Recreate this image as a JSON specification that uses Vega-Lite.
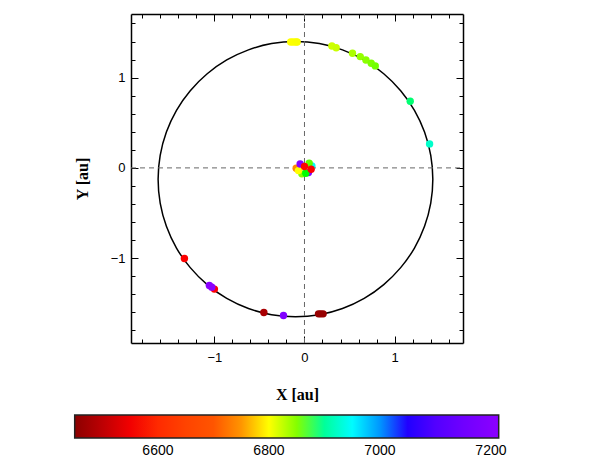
{
  "$schema": "https://vega.github.io/schema/vega-lite/v6.json",
  "width": 332,
  "height": 329,
  "autosize": {"type": "none"},
  "padding": {"left": 131, "top": 14, "right": 135, "bottom": 123},
  "config": {
    "view": {"stroke": null},
    "font": "Liberation Sans",
    "axis": {"labelFont": "Liberation Sans", "labelFontSize": 13, "labelColor": "#000", "tickColor": "#000", "domainColor": "#000", "grid": false, "titleFont": "Liberation Serif", "titleFontSize": 16, "titleFontWeight": "bold", "titleColor": "#000"},
    "legend": {"labelFont": "Liberation Sans", "labelFontSize": 14, "labelColor": "#000"}
  },
  "resolve": {"axis": {"x": "independent", "y": "independent"}},
  "layer": [
    {
      "data": {"values": [
        {"i": 0, "x": 1.425, "y": -0.125}, {"i": 1, "x": 1.402, "y": 0.140}, {"i": 2, "x": 1.333, "y": 0.397},
        {"i": 3, "x": 1.221, "y": 0.638}, {"i": 4, "x": 1.068, "y": 0.855}, {"i": 5, "x": 0.880, "y": 1.043},
        {"i": 6, "x": 0.663, "y": 1.196}, {"i": 7, "x": 0.422, "y": 1.308}, {"i": 8, "x": 0.165, "y": 1.377},
        {"i": 9, "x": -0.100, "y": 1.400}, {"i": 10, "x": -0.365, "y": 1.377}, {"i": 11, "x": -0.622, "y": 1.308},
        {"i": 12, "x": -0.863, "y": 1.196}, {"i": 13, "x": -1.080, "y": 1.043}, {"i": 14, "x": -1.268, "y": 0.855},
        {"i": 15, "x": -1.421, "y": 0.638}, {"i": 16, "x": -1.533, "y": 0.397}, {"i": 17, "x": -1.602, "y": 0.140},
        {"i": 18, "x": -1.625, "y": -0.125}, {"i": 19, "x": -1.602, "y": -0.390}, {"i": 20, "x": -1.533, "y": -0.647},
        {"i": 21, "x": -1.421, "y": -0.888}, {"i": 22, "x": -1.268, "y": -1.105}, {"i": 23, "x": -1.080, "y": -1.293},
        {"i": 24, "x": -0.863, "y": -1.446}, {"i": 25, "x": -0.622, "y": -1.558}, {"i": 26, "x": -0.365, "y": -1.627},
        {"i": 27, "x": -0.100, "y": -1.650}, {"i": 28, "x": 0.165, "y": -1.627}, {"i": 29, "x": 0.422, "y": -1.558},
        {"i": 30, "x": 0.663, "y": -1.446}, {"i": 31, "x": 0.880, "y": -1.293}, {"i": 32, "x": 1.068, "y": -1.105},
        {"i": 33, "x": 1.221, "y": -0.888}, {"i": 34, "x": 1.333, "y": -0.647}, {"i": 35, "x": 1.402, "y": -0.390}
      ]},
      "mark": {"type": "line", "interpolate": "cardinal-closed", "color": "#000", "strokeWidth": 1.5, "clip": true},
      "encoding": {
        "order": {"field": "i", "type": "quantitative"},
        "x": {"field": "x", "type": "quantitative", "scale": {"domain": [-1.926, 1.76], "nice": false, "zero": false},
          "axis": {"orient": "bottom", "values": [-1, 0, 1], "tickSize": -7, "tickWidth": 1, "labelPadding": 15, "domain": true, "domainWidth": 1.5, "title": "X [au]", "titlePadding": 22}},
        "y": {"field": "y", "type": "quantitative", "scale": {"domain": [-1.94, 1.705], "nice": false, "zero": false},
          "axis": {"orient": "left", "values": [-1, 0, 1], "tickSize": -7, "tickWidth": 1, "labelPadding": 13, "domain": true, "domainWidth": 1.5, "title": "Y [au]", "titlePadding": 20}}
      }
    },
    {
      "data": {"values": [{}]},
      "mark": {"type": "rule", "color": "#666", "strokeWidth": 1, "strokeDash": [5, 4]},
      "encoding": {
        "x": {"datum": 0, "type": "quantitative",
          "axis": {"orient": "bottom", "values": [-1.8, -1.6, -1.4, -1.2, -0.8, -0.6, -0.4, -0.2, 0.2, 0.4, 0.6, 0.8, 1.2, 1.4, 1.6], "tickSize": -4, "labels": false, "domain": false, "title": null}},
        "y": {"datum": -1.94, "type": "quantitative",
          "axis": {"orient": "left", "values": [-1.8, -1.6, -1.4, -1.2, -0.8, -0.6, -0.4, -0.2, 0.2, 0.4, 0.6, 0.8, 1.2, 1.4, 1.6], "tickSize": -4, "labels": false, "domain": false, "title": null}},
        "y2": {"datum": 1.705}
      }
    },
    {
      "data": {"values": [{}]},
      "mark": {"type": "rule", "color": "#666", "strokeWidth": 1, "strokeDash": [5, 4]},
      "encoding": {
        "y": {"datum": 0, "type": "quantitative",
          "axis": {"orient": "right", "values": [-1, 0, 1], "tickSize": -7, "labels": false, "domain": true, "domainWidth": 1.5, "title": null}},
        "x": {"datum": -1.926, "type": "quantitative",
          "axis": {"orient": "top", "values": [-1, 0, 1], "tickSize": -7, "labels": false, "domain": true, "domainWidth": 1.5, "title": null}},
        "x2": {"datum": 1.76}
      }
    },
    {
      "data": {"values": [
        {"x": -0.153, "y": 1.395, "v": 6800}, {"x": -0.126, "y": 1.395, "v": 6801}, {"x": -0.098, "y": 1.395, "v": 6802}, {"x": -0.081, "y": 1.395, "v": 6803},
        {"x": 0.304, "y": 1.351, "v": 6823}, {"x": 0.352, "y": 1.332, "v": 6825},
        {"x": 0.533, "y": 1.270, "v": 6837},
        {"x": 0.619, "y": 1.233, "v": 6845}, {"x": 0.682, "y": 1.196, "v": 6848}, {"x": 0.741, "y": 1.159, "v": 6852}, {"x": 0.786, "y": 1.130, "v": 6855},
        {"x": 1.174, "y": 0.739, "v": 6888},
        {"x": 1.389, "y": 0.266, "v": 6918},
        {"x": -1.333, "y": -1.004, "v": 6560},
        {"x": -1.000, "y": -1.343, "v": 6560}, {"x": -1.056, "y": -1.303, "v": 7208}, {"x": -1.029, "y": -1.321, "v": 7210},
        {"x": -0.451, "y": -1.602, "v": 6480},
        {"x": -0.233, "y": -1.635, "v": 7188},
        {"x": 0.156, "y": -1.617, "v": 6462}, {"x": 0.180, "y": -1.617, "v": 6462}, {"x": 0.207, "y": -1.617, "v": 6462},
        {"x": -0.029, "y": -0.066, "v": 6850},
        {"x": 0.044, "y": -0.052, "v": 7190},
        {"x": 0.015, "y": -0.059, "v": 6870},
        {"x": -0.092, "y": -0.004, "v": 6740},
        {"x": -0.067, "y": -0.030, "v": 6800},
        {"x": 0.082, "y": 0.022, "v": 6940},
        {"x": 0.052, "y": 0.052, "v": 6860},
        {"x": -0.048, "y": 0.044, "v": 7200},
        {"x": 0.074, "y": -0.015, "v": 6560},
        {"x": 0.0, "y": 0.015, "v": 6562}
      ]},
      "mark": {"type": "circle", "size": 55, "opacity": 1, "clip": true},
      "encoding": {
        "x": {"field": "x", "type": "quantitative",
          "axis": {"orient": "top", "values": [-1.8, -1.6, -1.4, -1.2, -0.8, -0.6, -0.4, -0.2, 0.2, 0.4, 0.6, 0.8, 1.2, 1.4, 1.6], "tickSize": -4, "labels": false, "domain": false, "title": null}},
        "y": {"field": "y", "type": "quantitative",
          "axis": {"orient": "right", "values": [-1.8, -1.6, -1.4, -1.2, -0.8, -0.6, -0.4, -0.2, 0.2, 0.4, 0.6, 0.8, 1.2, 1.4, 1.6], "tickSize": -4, "labels": false, "domain": false, "title": null}},
        "color": {"field": "v", "type": "quantitative",
          "scale": {"domain": [6450, 6562, 6700, 6760, 6800, 6870, 6948, 7038, 7214], "range": ["#8b0000", "#ff0000", "#ff5500", "#ffa000", "#ffff00", "#00ff00", "#00ffff", "#0000ff", "#8c00ff"]},
          "legend": {"orient": "none", "direction": "horizontal", "legendX": -56.3, "legendY": 401, "title": null, "gradientLength": 424, "gradientThickness": 23, "gradientStrokeColor": "#222", "gradientStrokeWidth": 1.5, "values": [6600, 6800, 7000, 7200], "format": "d", "labelOffset": 6, "padding": 0}}
      }
    }
  ]
}
